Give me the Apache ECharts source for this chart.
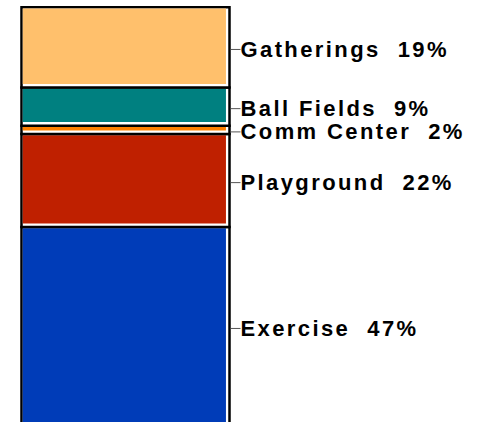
<!DOCTYPE html>
<html>
<head>
<meta charset="utf-8">
<script src="https://cdn.jsdelivr.net/npm/echarts@6/dist/echarts.min.js"></script>
<style>
  html, body { margin: 0; padding: 0; background: #ffffff; }
  #chart { width: 478px; height: 422px; }
  #chart text { letter-spacing: 2.4px; }
</style>
</head>
<body>
<div id="chart"></div>
<script>
// Data (bottom to top of the stacked column)
const categories = ['Exercise', 'Playground', 'Comm Center', 'Ball Fields', 'Gatherings'];
const values = [47, 22, 2, 9, 19];
const columnName = ['Park use'];

// Styles
const segmentColors = ['#003CB8', '#BF2000', '#FF8000', '#008080', '#FFC06C'];

const total = values.reduce((a, b) => a + b, 0);
let acc = 0;
const seriesData = values.map((v, i) => {
  const item = [0, acc, v, i];
  acc += v;
  return item;
});

const chart = echarts.init(document.getElementById('chart'), null, { renderer: 'svg' });

chart.setOption({
  backgroundColor: '#ffffff',
  animation: false,
  grid: { left: 20.5, top: 7.3, width: 210, height: 418.5, outerBoundsMode: 'none', containLabel: false },
  xAxis: { type: 'category', data: columnName, show: false },
  yAxis: { type: 'value', min: 0, max: total, show: false },
  series: [{
    type: 'custom',
    data: seriesData,
    clip: false,
    renderItem: function (params, api) {
      const idx = api.value(3);
      const base = api.value(1);
      const v = api.value(2);
      const pTop = api.coord([0, base + v]);
      const pBot = api.coord([0, base]);
      const bw = api.size([1, 0])[0];
      const x0 = pTop[0] - bw / 2 + 1;
      const x1 = pTop[0] + bw / 2 - 1;
      const yT = pTop[1];
      const yB = pBot[1];
      const lw = 2.5;
      const gap = 2.3;
      const ly = (yT + yB) / 2 + 2;
      return {
        type: 'group',
        children: [
          {
            type: 'rect',
            shape: { x: x0, y: yT, width: x1 - x0, height: yB - yT },
            style: { fill: '#ffffff', stroke: '#000000', lineWidth: lw }
          },
          {
            type: 'rect',
            shape: { x: x0 + lw / 2, y: yT + lw / 2, width: x1 - x0 - lw - gap, height: Math.max(0, yB - yT - lw - gap) },
            style: { fill: segmentColors[idx] }
          },
          {
            type: 'line',
            shape: { x1: x1 + lw / 2, y1: ly, x2: x1 + 11, y2: ly },
            style: { stroke: '#555555', lineWidth: 1 }
          },
          {
            type: 'text',
            style: {
              x: x1 + 11,
              y: ly,
              text: categories[idx] + '  ' + v + '%',
              fill: '#000000',
              font: 'bold 22px "Liberation Sans", Arial, sans-serif',
              align: 'left',
              verticalAlign: 'middle'
            }
          }
        ]
      };
    }
  }]
});
</script>
</body>
</html>
